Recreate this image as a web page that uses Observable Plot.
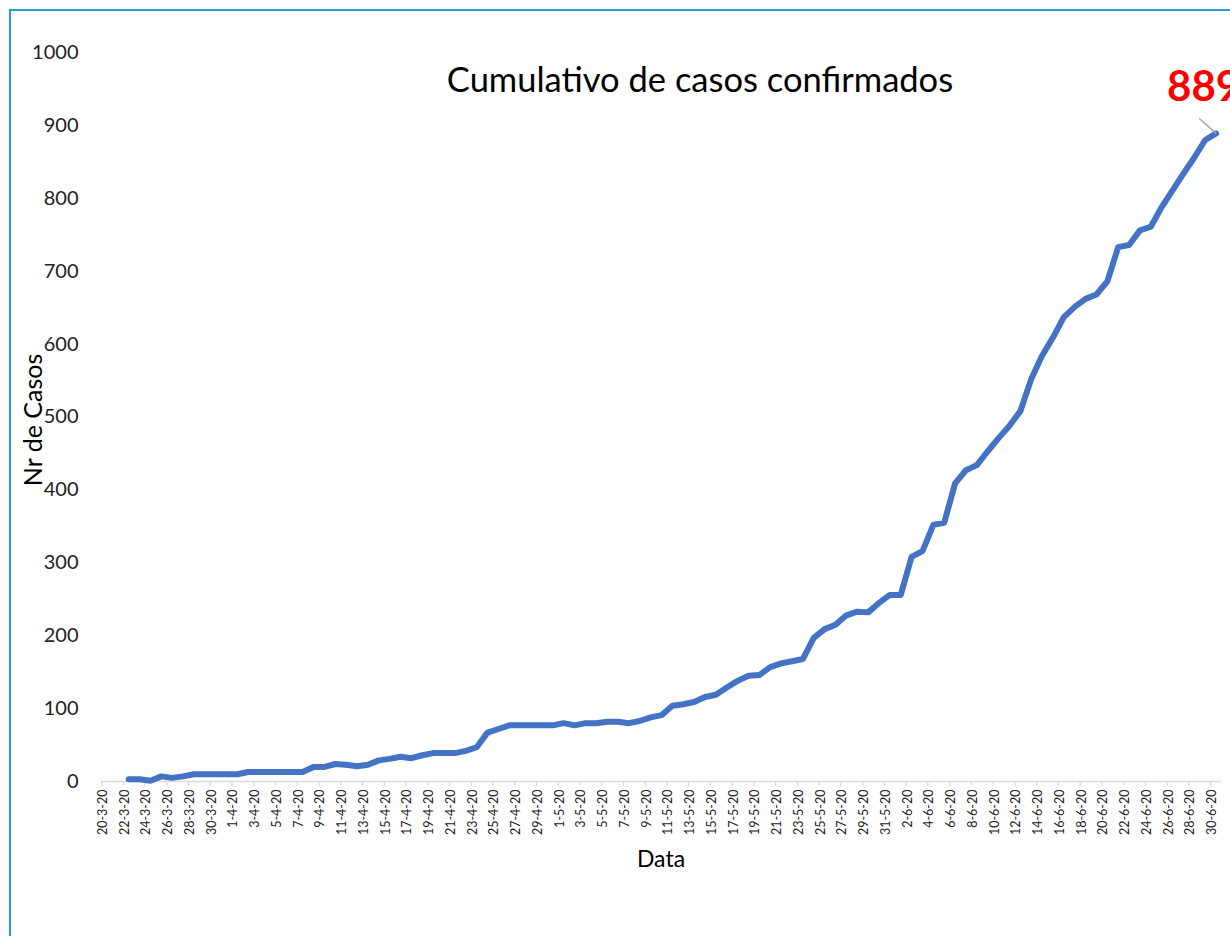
<!DOCTYPE html>
<html>
<head>
<meta charset="utf-8">
<script src="https://cdn.jsdelivr.net/npm/d3@7"></script>
<script src="https://cdn.jsdelivr.net/npm/@observablehq/plot@0.6"></script>
<style>
  body { margin: 0; background: #fff; font-family: Lato, "Open Sans", sans-serif; }
  #wrap { position: relative; width: 1230px; height: 936px; overflow: hidden; background: #fff; }
  #frame { position: absolute; left: 9px; top: 9px; width: 1400px; height: 1100px;
           border-left: 2px solid #1ca3de; border-top: 2px solid #1ca3de; pointer-events: none; }
  #chart { position: absolute; left: 0; top: 0; }
  .lbl { position: absolute; white-space: nowrap; color: #000; font-family: Lato, sans-serif; }
  #title { left: 700px; top: 57px; font-size: 34.5px; line-height: 44px; transform: translateX(-50%); }
  #xlabel { left: 661px; top: 843px; font-size: 23px; line-height: 30px; transform: translateX(-50%); }
  #ylabel { left: 32px; top: 420px; font-size: 25px; line-height: 30px; transform: translate(-50%, -50%) rotate(-90deg); }
</style>
</head>
<body>
<div id="wrap">
  <div id="chart"></div>
  <div id="frame"></div>
  <div class="lbl" id="title">Cumulativo de casos confirmados</div>
  <div class="lbl" id="xlabel">Data</div>
  <div class="lbl" id="ylabel">Nr de Casos</div>
</div>
<script>
// Categories: daily dates from 20-3-20 to 30-6-20; data starts on 22-3-20
const categoryStart = "2020-03-20";
const categoryEnd = "2020-07-01"; // exclusive
const firstDataIndex = 2;          // 22-3-20
// Cumulative confirmed cases, 22-3-20 .. 30-6-20
const cases = [
  3, 3, 1, 7, 5, 7, 10, 10, 10, 10,        // 22-3 .. 31-3
  10, 13, 13, 13, 13, 13, 13, 20, 20, 24,  // 1-4 .. 10-4
  23, 21, 23, 29, 31, 34, 32, 36, 39, 39,  // 11-4 .. 20-4
  39, 42, 47, 67, 72, 77, 77, 77, 77, 77,  // 21-4 .. 30-4
  80, 77, 80, 80, 82, 82, 80, 83, 88, 91,  // 1-5 .. 10-5
  104, 106, 109, 116, 119, 129, 138, 145, 146, 157, // 11-5 .. 20-5
  162, 165, 168, 197, 209, 215, 228, 233, 232, 245, // 21-5 .. 30-5
  256, 256, 308, 316, 352, 355, 409, 427, 434, 453, // 31-5 .. 9-6
  471, 488, 508, 552, 584, 609, 637, 651, 662, 668, // 10-6 .. 19-6
  686, 733, 736, 756, 761, 788, 811, 834, 856, 880, // 20-6 .. 29-6
  889                                               // 30-6
];
const yTicks = [0, 100, 200, 300, 400, 500, 600, 700, 800, 900, 1000];
const lastLabel = "889";

const dates = d3.utcDay.range(new Date(categoryStart), new Date(categoryEnd));
const data = cases.map((v, i) => ({date: dates[i + firstDataIndex], value: v}));
const tickDates = dates.filter((d, i) => i % 2 === 0);
const tickBounds = tickDates.map(d => d3.utcHour.offset(d, -12));
const fmt = d => `${d.getUTCDate()}-${d.getUTCMonth() + 1}-20`;
const last = data[data.length - 1];

const chart = Plot.plot({
  width: 1230,
  height: 936,
  marginLeft: 101,
  marginRight: 9,
  marginTop: 52,
  marginBottom: 155,
  style: {fontFamily: "Lato, sans-serif", fontSize: "12px", color: "#222", background: "transparent"},
  x: {type: "utc", domain: [d3.utcHour.offset(dates[0], -12), d3.utcHour.offset(dates[dates.length - 1], 12)], axis: null},
  y: {domain: [0, 1000], axis: null},
  marks: [
    Plot.ruleY([0], {stroke: "#d9d9d9", strokeWidth: 1.5}),
    Plot.ruleX(tickBounds, {x: d => d, y1: 0, y2: -7, stroke: "#d9d9d9", strokeWidth: 1.2}),
    Plot.text(yTicks, {y: d => d, text: d => String(d), frameAnchor: "left", dx: -23, textAnchor: "end", fontSize: 20, fill: "#222"}),
    Plot.text(tickDates, {x: d => d, text: fmt, frameAnchor: "bottom", dy: 8, rotate: -90, textAnchor: "end", fontSize: 12.5, fill: "#222"}),
    Plot.line(data, {x: "date", y: "value", stroke: "#4472c4", strokeWidth: 6, strokeLinejoin: "round", strokeLinecap: "round"}),
    Plot.link([last], {x1: "date", y1: "value", x2: d => d3.utcHour.offset(d.date, -37), y2: d => d.value + 20.5, stroke: "#a5a5a5", strokeWidth: 1.5}),
    Plot.text([last], {x: "date", y: "value", text: () => lastLabel, dx: -49, dy: -46, textAnchor: "start", fontSize: 42, fontWeight: "bold", fill: "#ff0000"})
  ]
});
document.getElementById("chart").appendChild(chart);
</script>
</body>
</html>
